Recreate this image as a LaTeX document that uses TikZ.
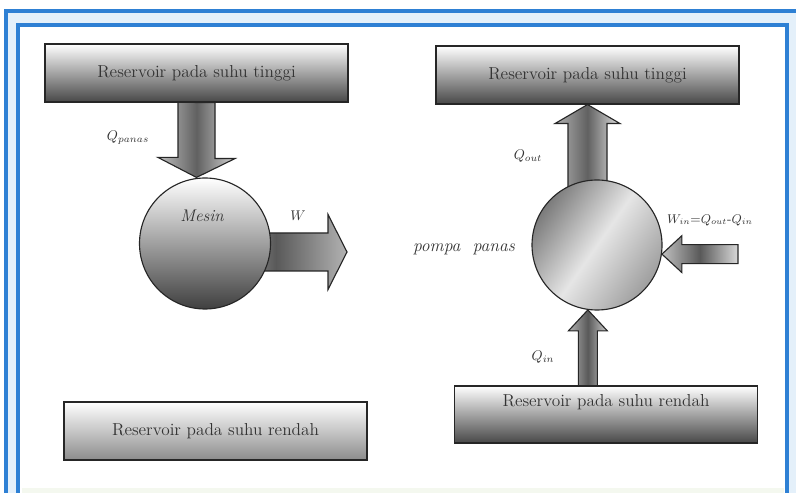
\documentclass[tikz,border=0pt]{standalone}
\usepackage{amsmath}
\usepackage{xcolor}
\usepackage{tikz}
\usetikzlibrary{calc,backgrounds}
\definecolor{hblue}{HTML}{2E80D4}
\definecolor{hband}{HTML}{E4F0FA}
\definecolor{hpale}{HTML}{F4F8EF}
\definecolor{hink}{HTML}{333333}
\tikzset{
  hframe/.style={draw=hblue, line width=2.2pt},
  hres/.style={rectangle, draw=black!85, line width=0.8pt, top color=white,
               bottom color=black!72, minimum width=7.575cm, minimum height=1.45cm,
               inner sep=0pt, text=hink, font=\fontsize{12.3}{14}\selectfont},
  hcirc/.style={circle, draw=black!85, line width=0.8pt, inner sep=0pt},
  harrow/.style={draw=black!85, line width=0.8pt, line join=miter},
  hlbl/.style={text=hink, font=\fontsize{10}{12}\selectfont, inner sep=1pt},
  hbig/.style={text=hink, font=\fontsize{12}{14}\selectfont\itshape, inner sep=1pt},
}

\begin{document}
\begin{tikzpicture}

  % area do desenho
  \useasboundingbox (0,0) rectangle (19.9,12.3);
  \clip (0,0) rectangle (19.9,12.3);

  % moldura azul
  \begin{scope}[on background layer]
    \filldraw[fill=hband, hframe] (0.15,-1) rectangle (20.5,12.025);
    \filldraw[fill=white, hframe] (0.45,-1) rectangle (19.675,11.675);
    \fill[hpale] (0.54,-1) rectangle (19.6,0.1);
  \end{scope}

  % reservatorios
  \node[hres] (hotL) at (4.9125,10.475) {Reservoir pada suhu tinggi};
  \node[hres, bottom color=black!45] (coldL) at (5.3875,1.525) {Reservoir pada suhu rendah};
  \node[hres] (hotR) at (14.6875,10.425) {Reservoir pada suhu tinggi};
  \node[hres, minimum height=1.425cm, text height=0.3cm, text depth=0.7cm]
       (coldR) at (15.15,1.9375) {Reservoir pada suhu rendah};

  % mesin e pompa
  \node[hcirc, minimum size=3.275cm, top color=white, bottom color=black!75]
       (mesin) at (5.125,6.2125) {};
  \node[hcirc, minimum size=3.25cm, left color=black!52, right color=black!38,
        middle color=black!10, shading angle=55] (pompa) at (14.925,6.175) {};

  % setas largas
  \begin{scope}[on background layer]
    \path[harrow, left color=black!25, right color=black!18, middle color=black!62]
      (hotL.south) -- ++(0.4625,0) -- ++(0,-1.4) -- ++(0.5,0)
      -- (hotL.south |- mesin.north) -- ++(-0.9625,0.5) -- ++(0.5,0)
      -- ++(0,1.4) -- cycle;
    \path[harrow, left color=black!20, right color=black!30, middle color=black!65]
      ($(mesin.center)+(0,0.2625)$) -- ++(3.075,0) -- ++(0,0.4625)
      -- ++(0.475,-0.9375) -- ++(-0.475,-0.9375) -- ++(0,0.4625)
      -- ++(-3.075,0) -- cycle;
    \path[harrow, left color=black!30, right color=black!12, middle color=black!62]
      (hotR.south) -- ++(0.8125,-0.475) -- ++(-0.325,0) -- ++(0,-2.5)
      -- ++(-0.975,0) -- ++(0,2.5) -- ++(-0.325,0) -- cycle;
    \path[harrow, left color=black!25, right color=black!15, middle color=black!65]
      (pompa.-8) -- ++(0.5,0.4625) -- ++(0,-0.225) -- ++(1.4,0)
      -- ++(0,-0.475) -- ++(-1.4,0) -- ++(0,-0.225) -- cycle;
    \path[harrow, left color=black!30, right color=black!20, middle color=black!65]
      (pompa.-98) -- ++(0.4875,-0.525) -- ++(-0.25,0) -- ++(0,-1.4)
      -- ++(-0.475,0) -- ++(0,1.4) -- ++(-0.25,0) -- cycle;
  \end{scope}

  % rotulos
  \node[hlbl] (lpanas) at (3.2,8.85) {$Q_{panas}$};
  \node[hbig] (lmesin) at ($(mesin.center)+(-0.075,0.69)$) {Mesin};
  \node[hlbl] (lw) at (7.45,6.9) {$W$};
  \node[hbig, font=\fontsize{12.5}{14}\selectfont\itshape] (lpompa) at (11.6,6.075) {pompa\ \ panas};
  \node[hlbl] (lout) at (13.2,8.4) {$Q_{out}$};
  \node[hlbl, font=\fontsize{9.2}{11}\selectfont] (lwin) at (17.75,6.8) {$W_{in}$=$Q_{out}$-$Q_{in}$};
  \node[hlbl] (lin) at (13.575,3.375) {$Q_{in}$};

\end{tikzpicture}
\end{document}
